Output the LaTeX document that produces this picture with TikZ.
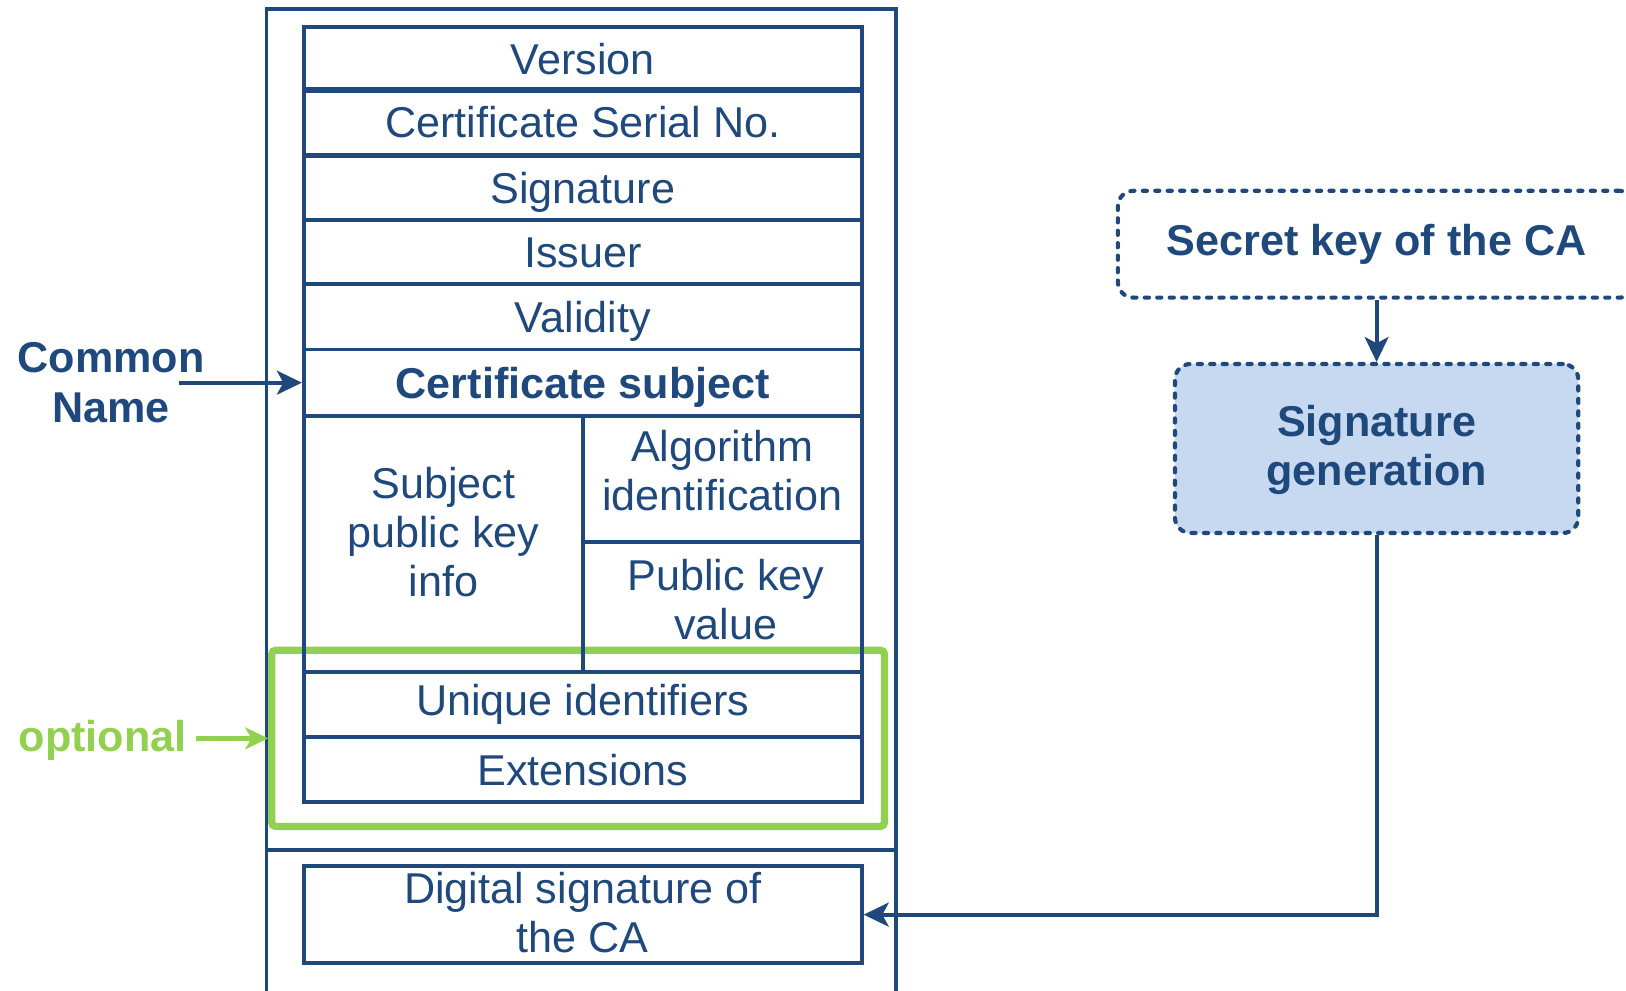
\documentclass[tikz,border=0pt]{standalone}
\usepackage{fontspec}
\setmainfont{Liberation Sans}
\usetikzlibrary{arrows.meta}
\definecolor{navy}{RGB}{31,73,125}
\definecolor{leaf}{RGB}{146,208,80}
\definecolor{pale}{RGB}{198,217,241}
\begin{document}
\begin{tikzpicture}[x=0.5pt,y=-0.5pt,
  txt/.style={font=\fontsize{20.8pt}{23.7pt}\selectfont},
  boldtxt/.style={font=\fontsize{20.8pt}{23.7pt}\selectfont\bfseries},
  field/.style={draw=navy,line width=1.9pt,inner sep=0pt,text=navy,txt,
    text height=15pt,text depth=0pt,minimum width=269pt},
  cell/.style={draw=navy,line width=1.9pt,inner sep=0pt,minimum width=134.5pt},
  label/.style={txt,text=navy,align=center},
  dashbox/.style={draw=navy,line width=2pt,dash pattern=on 2pt off 4pt,line cap=round,
    rounded corners=7.5pt,inner sep=0pt,text=navy,boldtxt,align=center},
  link/.style={draw=navy,line width=1.9pt,-{Stealth[length=12pt,width=11.5pt,inset=3pt]}},
  greenlink/.style={draw=leaf,line width=2.2pt,-{Stealth[length=11pt,width=10.5pt,inset=3pt]}}]
\useasboundingbox (0,0) rectangle (1568,955);

% optional-fields frame (drawn first, field borders cross it)
\node[draw=leaf,line width=3.5pt,rounded corners=2pt,minimum width=295.5pt,minimum height=85pt,inner sep=0pt]
  (optbox) at (557.5,712) {};

% outer certificate frame
\draw[navy,line width=1.9pt] (257,970) -- (257,9) -- (864,9) -- (864,970);
\draw[navy,line width=1.9pt] (257,820) -- (864,820);

% certificate fields
\node[field,minimum height=31pt]   (version)  at (562,57)    {Version};
\node[field,minimum height=31.5pt] (serial)   at (562,117.5) {Certificate Serial No.};
\node[field,minimum height=31pt]   (sig)      at (562,181)   {Signature};
\node[field,minimum height=31pt]   (issuer)   at (562,243)   {Issuer};
\node[field,minimum height=31.5pt] (validity) at (562,305.5) {Validity};
\node[field,boldtxt,minimum height=32pt] (subject) at (562,369) {Certificate subject};
\node[cell,minimum height=123.5pt] (spki) at (427.5,524.5) {};
\node[label] at (427.5,513) {Subject\\public key\\info};
\node[cell,minimum height=61pt] (algo) at (696.5,462) {};
\node[label] at (696.5,454) {Algorithm\\identification};
\node[cell,minimum height=62.5pt] (pkval) at (696.5,585.5) {};
\node[label] at (700,578) {Public key\\value};
\node[field,text depth=5pt,minimum height=31.5pt] (uid) at (562,679.5) {Unique identifiers};
\node[field,minimum height=31pt]   (ext) at (562,742)   {Extensions};
\node[field,minimum height=47pt]   (digsig) at (562,882) {};
\node[label] at (562,880) {Digital signature of\\the CA};

% side labels
\node[boldtxt,text=navy,align=center] (cname) at (107,369) {Common\\Name};
\coordinate (cnfrom) at (173,369);
\draw[link] (cnfrom) -- (subject.west);
\node[boldtxt,text=leaf] (opt) at (99,714) {optional};
\coordinate (optfrom) at (189,712);
\draw[greenlink] (optfrom) -- (optbox.west);

% signing process
\node[dashbox,minimum width=249.5pt,minimum height=51.5pt] (seckey) at (1327.5,235.5) {Secret key of the CA};
\node[dashbox,fill=pale,minimum width=194.5pt,minimum height=81.5pt] (siggen) at (1327.5,432.5) {};
\node[boldtxt,text=navy,align=center] at (1327.5,434) {Signature\\generation};
\draw[link] (seckey.south) -- (siggen.north);
\draw[link] (siggen.south) |- (digsig.east);
\end{tikzpicture}
\end{document}
